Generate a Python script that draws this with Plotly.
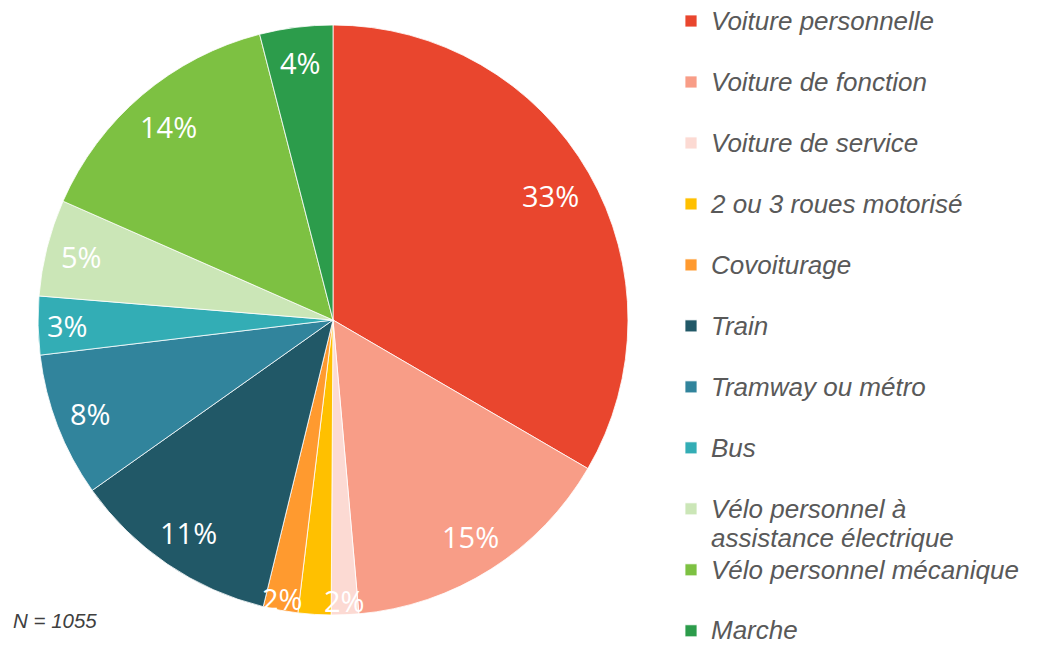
import math
import plotly.graph_objects as go

W, H = 1037, 680  # figure a little taller than the window so the legend fits unscrolled

categories = [
    "Voiture personnelle", "Voiture de fonction", "Voiture de service",
    "2 ou 3 roues motorisé", "Covoiturage", "Train", "Tramway ou métro",
    "Bus", "Vélo personnel à<br>assistance électrique",
    "Vélo personnel mécanique", "Marche",
]
values = [33.4, 15.2, 1.5, 1.8, 1.9, 11.4, 7.9, 3.2, 5.3, 14.4, 4.0]
value_labels = ["33%", "15%", "2%", "", "2%", "11%", "8%", "3%", "5%", "14%", "4%"]
colors = ["#E9462E", "#F89D87", "#FCDAD3", "#FFC000", "#FF9A2F", "#215867",
          "#31849C", "#33ADB5", "#CBE6B7", "#7DC142", "#2C9C4B"]
label_radius = [0.85, 0.87, 0.95, 0.95, 0.96, 0.87, 0.88, 0.9, 0.88, 0.86, 0.88]

# pie geometry (pixels, window coordinates)
cx, cy, R = 333, 320, 295


def px_x(x):
    return x / W


def px_y(y):
    return 1 - y / H


legend_names = []
for i, c in enumerate(categories):
    lines = c.count("<br>") + 1
    txt = c if (lines > 1 or i == len(categories) - 1) else c + "<br> "
    legend_names.append(f"<span style='font-size:26px'>{txt}</span>")

fig = go.Figure()
fig.add_trace(go.Pie(
    labels=legend_names,
    values=values,
    sort=False,
    direction="clockwise",
    rotation=0,
    textinfo="none",
    hoverinfo="skip",
    marker=dict(colors=colors, line=dict(color="white", width=0.8)),
    domain=dict(x=[px_x(cx - R), px_x(cx + R)], y=[px_y(cy + R), px_y(cy - R)]),
))

total = sum(values)
cum = 0.0
annotations = []
for v, t, f in zip(values, value_labels, label_radius):
    mid = (cum + v / 2) / total * 2 * math.pi
    cum += v
    if not t:
        continue
    px = cx + f * R * math.sin(mid)
    py = cy - f * R * math.cos(mid)
    annotations.append(dict(
        x=px_x(px), y=px_y(py), xref="paper", yref="paper", text=t,
        showarrow=False, xanchor="center", yanchor="middle",
        font=dict(family="Open Sans", size=29, color="white"),
    ))

annotations.append(dict(
    x=px_x(11), y=px_y(620), xref="paper", yref="paper", text="<i>N = 1055</i>",
    showarrow=False, xanchor="left", yanchor="middle",
    font=dict(family="Liberation Sans", size=20.5, color="#404040"),
))

fig.update_layout(
    width=W, height=H,
    margin=dict(l=0, r=0, t=0, b=0),
    paper_bgcolor="white",
    plot_bgcolor="white",
    showlegend=True,
    legend=dict(
        x=px_x(671), y=1, xanchor="left", yanchor="top",
        font=dict(family="Liberation Sans", size=22.3, color="#595959", style="italic"),
        valign="top",
        bgcolor="rgba(0,0,0,0)",
    ),
    annotations=annotations,
)

fig.write_html(
    "out.html",
    config={"displayModeBar": False},
    post_script="document.body.style.margin='0';",
)
